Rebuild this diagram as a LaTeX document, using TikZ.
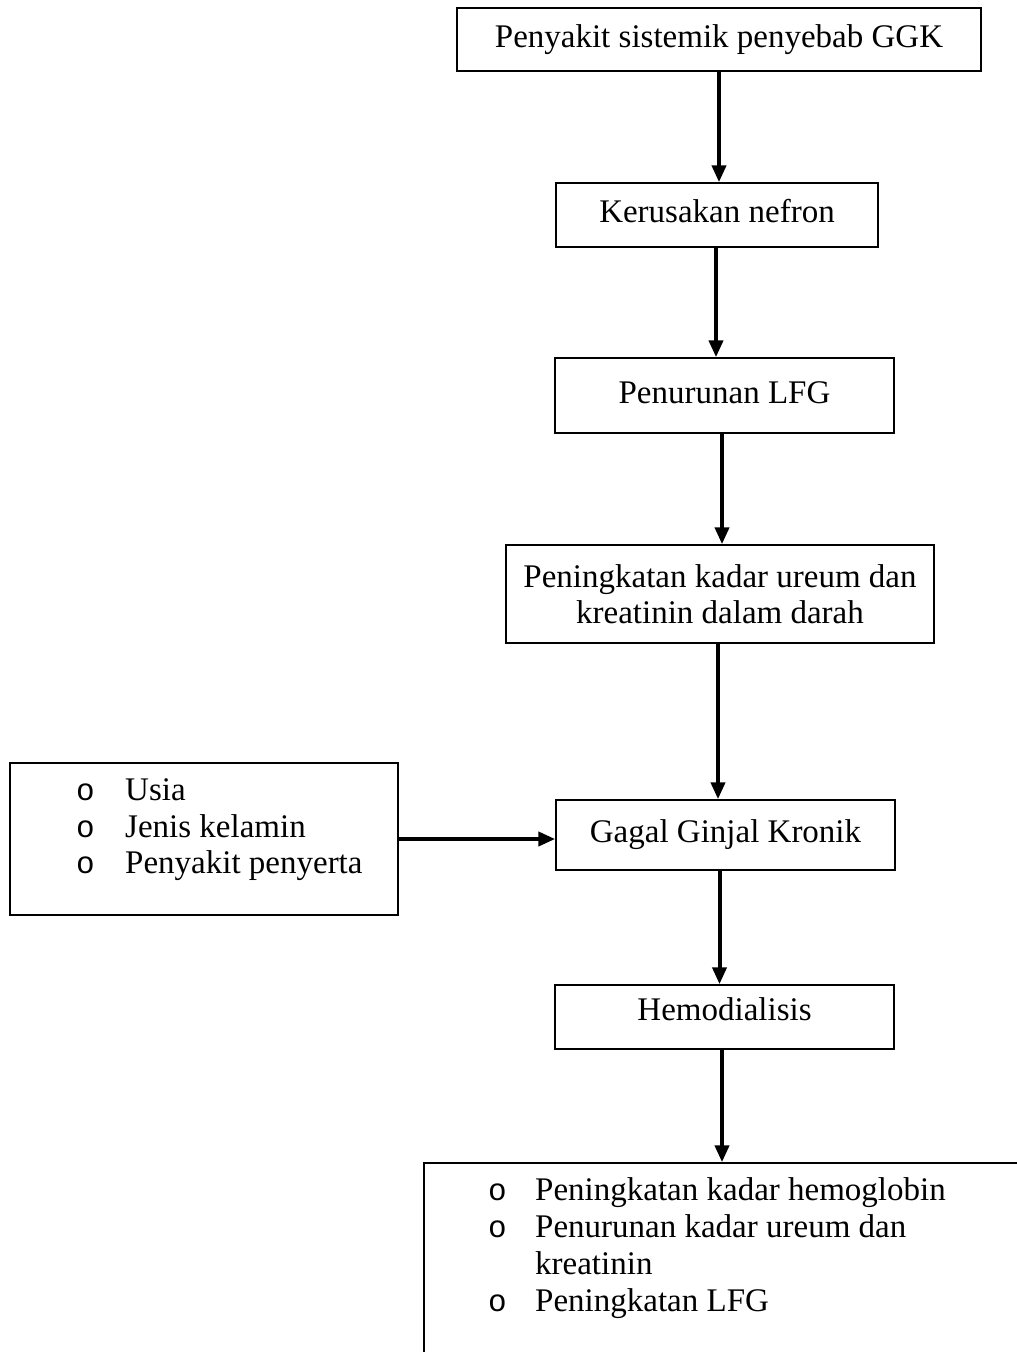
\documentclass[tikz,border=0pt]{standalone}
\usepackage{fontspec}
\setmainfont{Liberation Serif}
\newfontfamily\bulletfont{Liberation Mono}
\usetikzlibrary{arrows.meta}
\begin{document}
\begin{tikzpicture}[x=1pt,y=-1pt,
  font=\fontsize{33}{36.5}\selectfont,
  box/.style={draw,line width=1.5pt,rectangle,inner sep=0pt,align=center},
  one/.style={text height=22pt,text depth=7pt},
  txt/.style={inner sep=0pt,anchor=base west},
  blt/.style={inner sep=0pt,anchor=base west,font=\fontsize{31}{36.5}\selectfont\bulletfont},
  arr/.style={line width=4pt,-{Triangle[width=14pt,length=17pt]}}]
\useasboundingbox (0,0) rectangle (1017,1352);
\fill[white] (0,0) rectangle (1017,1352);

\node[box,one,minimum width=524pt,minimum height=63pt] (b1) at (719,39.5) {Penyakit sistemik penyebab GGK};
\node[box,text height=22pt,text depth=8pt,minimum width=322pt,minimum height=64pt] (b2) at (717,215) {Kerusakan nefron};
\node[box,one,minimum width=339pt,minimum height=75pt] (b3) at (724.5,395.5) {Penurunan LFG};
\node[box,minimum width=428pt,minimum height=98pt] (b4) at (720,594) {Peningkatan kadar ureum dan\\kreatinin dalam darah};
\node[box,text height=22pt,text depth=8pt,minimum width=339pt,minimum height=70pt] (b5) at (725.5,835) {Gagal Ginjal Kronik};
\node[box,text height=22pt,text depth=16pt,minimum width=339pt,minimum height=64pt] (b6) at (724.5,1017) {Hemodialisis};
\node[box,minimum width=388pt,minimum height=152pt] (left) at (204,839) {};

\begin{scope}
\clip (0,0) rectangle (1017,1352);
\node[box,minimum width=640pt,minimum height=240pt] (out) at (744,1283) {};
\end{scope}

% left list
\node[blt] (lb1) at (76,800) {o};
\node[txt] (lt1) at (125,800) {Usia};
\node[blt] (lb2) at (76,837) {o};
\node[txt] (lt2) at (125,837) {Jenis kelamin};
\node[blt] (lb3) at (76,873) {o};
\node[txt] (lt3) at (125,873) {Penyakit penyerta};

% bottom list
\node[blt] (ob1) at (488,1200) {o};
\node[txt] (ot1) at (535,1200) {Peningkatan kadar hemoglobin};
\node[blt] (ob2) at (488,1237) {o};
\node[txt] (ot2) at (535,1237) {Penurunan kadar ureum dan};
\node[txt] (ot3) at (535,1274) {kreatinin};
\node[blt] (ob4) at (488,1311) {o};
\node[txt] (ot4) at (535,1311) {Peningkatan LFG};

% arrows
\draw[arr] (b1.south) -- (b1.south |- b2.north);
\draw[arr] ([xshift=-1pt]b2.south) -- ([xshift=-1pt]b2.south |- b3.north);
\draw[arr] ([xshift=-2.5pt]b3.south) -- ([xshift=-2.5pt]b3.south |- b4.north);
\draw[arr] ([xshift=-2pt]b4.south) -- ([xshift=-2pt]b4.south |- b5.north);
\draw[arr] ([xshift=-6pt]b5.south) -- ([xshift=-6pt]b5.south |- b6.north);
\draw[arr] ([xshift=-2.5pt]b6.south) -- ([xshift=-2.5pt]b6.south |- out.north);
\draw[arr] (left.east) -- (left.east -| b5.west);
\end{tikzpicture}
\end{document}
